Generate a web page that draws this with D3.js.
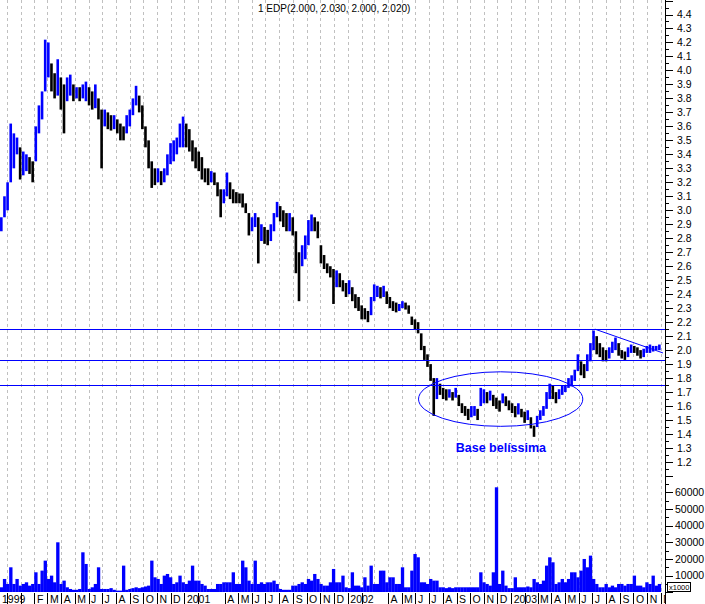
<!DOCTYPE html>
<html><head><meta charset="utf-8">
<script src="https://cdn.jsdelivr.net/npm/d3@7"></script>
<style>body{margin:0;background:#fff} svg{display:block} text{font-family:"Liberation Sans",Arial,sans-serif}</style>
</head><body><svg id="c" width="705" height="604"></svg>
<script>
// ---- data (weekly bars) ----
const weekStart = "1999-11-19";
const high = [
2.95,3.1,3.2,3.62,3.55,3.52,3.45,3.42,3.4,3.38,
3.35,3.6,3.75,3.85,4.22,4.2,4.05,3.98,4.08,3.95,
3.9,3.95,3.97,3.9,3.88,3.88,3.9,3.92,3.88,3.85,
3.9,3.8,3.72,3.72,3.7,3.68,3.68,3.65,3.62,3.6,
3.68,3.72,3.8,3.89,3.82,3.75,3.6,3.5,3.35,3.3,
3.3,3.28,3.3,3.4,3.48,3.5,3.52,3.62,3.67,3.62,
3.58,3.5,3.45,3.42,3.38,3.3,3.3,3.28,3.27,3.2,
3.15,3.15,3.27,3.2,3.15,3.13,3.12,3.12,3.05,2.98,
2.95,2.98,2.95,2.9,2.88,2.86,2.9,2.98,3.06,3.03,
3.0,2.98,2.98,2.95,2.85,2.7,2.75,2.82,2.93,2.97,
2.95,2.92,2.75,2.68,2.62,2.6,2.58,2.57,2.55,2.5,
2.48,2.5,2.45,2.4,2.38,2.32,2.3,2.28,2.38,2.47,
2.46,2.45,2.46,2.42,2.38,2.35,2.34,2.33,2.35,2.34,
2.32,2.24,2.22,2.2,2.12,2.03,1.97,1.9,1.8,1.8,
1.76,1.73,1.72,1.72,1.7,1.73,1.68,1.62,1.6,1.58,
1.6,1.6,1.58,1.73,1.72,1.7,1.71,1.68,1.66,1.64,
1.69,1.67,1.64,1.62,1.6,1.62,1.58,1.56,1.57,1.52,
1.46,1.53,1.57,1.6,1.7,1.76,1.75,1.7,1.72,1.75,
1.75,1.8,1.82,1.86,1.97,1.92,1.9,1.97,2.05,2.14,
2.1,2.05,2.02,2.0,2.02,2.06,2.09,2.05,2.0,1.99,
2.02,2.04,2.03,2.02,2.0,2.01,2.03,2.04,2.03,2.03,
2.04];
const low = [
2.85,2.95,3.0,3.2,3.3,3.4,3.22,3.25,3.28,3.26,
3.2,3.35,3.55,3.65,3.85,3.95,3.85,3.8,3.82,3.72,
3.55,3.78,3.82,3.78,3.8,3.78,3.8,3.78,3.75,3.72,
3.73,3.65,3.3,3.6,3.58,3.57,3.58,3.55,3.5,3.5,
3.55,3.6,3.68,3.75,3.7,3.58,3.45,3.3,3.16,3.18,
3.2,3.18,3.2,3.25,3.33,3.35,3.4,3.45,3.45,3.45,
3.42,3.35,3.3,3.28,3.22,3.2,3.18,3.2,3.18,3.1,
2.95,3.05,3.1,3.08,3.05,3.05,3.05,3.02,2.98,2.82,
2.85,2.88,2.62,2.78,2.76,2.75,2.78,2.85,2.95,2.92,
2.88,2.85,2.85,2.82,2.55,2.35,2.6,2.65,2.75,2.85,
2.85,2.8,2.62,2.58,2.55,2.52,2.33,2.45,2.45,2.42,
2.38,2.4,2.35,2.3,2.28,2.22,2.22,2.2,2.25,2.35,
2.38,2.37,2.38,2.33,2.3,2.28,2.27,2.28,2.3,2.29,
2.26,2.18,2.15,2.12,2.0,1.93,1.88,1.78,1.53,1.65,
1.68,1.65,1.64,1.66,1.64,1.66,1.6,1.55,1.53,1.5,
1.52,1.53,1.5,1.6,1.62,1.62,1.64,1.6,1.58,1.56,
1.62,1.6,1.57,1.55,1.52,1.54,1.52,1.48,1.5,1.44,
1.38,1.45,1.5,1.53,1.58,1.65,1.65,1.62,1.65,1.68,
1.7,1.73,1.74,1.78,1.85,1.82,1.8,1.85,1.92,2.0,
1.97,1.95,1.92,1.92,1.94,1.98,2.0,1.96,1.94,1.93,
1.95,1.98,1.98,1.96,1.94,1.95,1.98,1.98,1.99,2.0,
2.0];
const volume = [ // thousands
3,8,5,15,5,8,4,5,6,4,
5,12,5,13,19,8,10,6,30,5,
7,3,2,1.5,1.5,2,24,17,2,3,
5,15,2,2,2,2.5,1.5,1,1,16,
1.5,2,2.5,3,2.5,3,3.5,4,19,9,
8,5,10,11,9,5,6,10,6,5,
7,16,7,7,5,4,2,2,2,5,
5,6,6,6,12,5,5,19,15,7,
5,19,5,6,5,6,6,7,5,2,
1.5,1.5,1.5,4,4,5,6,5,8,7,
11,8,5,4,4,6,14,6,6,10,
3,2.5,12,4,4,3,9,4,16,5,
5,13,13,6,9,9,5,5,15,3,
3,13,23,21,6,6,5,8,7,7,
3,3,2.5,3,2.5,3,3,3,3,3,
3,3,3,12,6,5,4,12,63,5,
13,4,2.5,2.5,9,3,3,3,3.5,3,
8,6,5,7,16,21,18,5,6,8,
6,8,12,12,9,13,20,15,22,8,
5,3,3,5,3,4,3,5,5,4,
5,5,10,4,4,3,6,5,10,4,
5];
const levels = [2.15, 1.93, 1.75];
const trendDates = ["2003-07-07", "2003-12-06"];
const trendValues = [2.15, 1.98];
const ellipseDates = ["2002-06-08", "2003-06-10"];
const ellipseValues = [1.455, 1.845];
const noteDate = "2002-12-09", noteValue = 1.27, noteText = "Base belíssima";
const title = "1 EDP(2.000, 2.030, 2.000, 2.020)";
const priceLabels = ["4.4","4.3","4.2","4.1","4.0","3.9","3.8","3.7","3.6","3.5","3.4","3.3","3.2","3.1","3.0","2.9","2.8","2.7","2.6","2.5","2.4","2.3","2.2","2.1","2.0","1.9","1.8","1.7","1.6","1.5","1.4","1.3","1.2"];
const volumeLabels = ["60000","50000","40000","30000","20000","10000"];
const monthLabels = ["1999","","F","M","A","M","J","J","A","S","O","N","D",
 "2001","","","A","M","J","J","A","S","O","N","D",
 "2002","","","A","M","J","J","A","S","O","N","D",
 "2003","","M","A","M","J","J","A","S","O","N","D"];

// ---- drawing ----
const parse = d3.timeParse("%Y-%m-%d");
const svg = d3.select("#c");
const W = 705, H = 604, axisX = 665, plotBottom = 592;
const x = d3.scaleTime().domain([new Date(1999,11,1), new Date(2003,11,1)]).range([6.7, 660.7]);
const y = d3.scaleLinear().domain([1.2, 4.4]).range([462, 14.5]);
const yv = d3.scaleLinear().domain([0, 60000]).range([592.3, 492.3]);
const blue = "#0000ff";

svg.append("rect").attr("width", W).attr("height", H).attr("fill", "#fff");
svg.append("defs").append("clipPath").attr("id", "plot")
  .append("rect").attr("x", 0).attr("y", 0).attr("width", axisX).attr("height", plotBottom);
svg.select("defs").append("clipPath").attr("id", "axisclip")
  .append("rect").attr("x", 0).attr("y", 0).attr("width", axisX).attr("height", H);

const months = d3.timeMonth.range(new Date(1999,11,1), new Date(2003,11,2));

// grid
svg.append("g").selectAll("line").data(months).join("line")
  .attr("x1", d => Math.round(x(d)) + 0.5).attr("x2", d => Math.round(x(d)) + 0.5)
  .attr("y1", 0).attr("y2", plotBottom)
  .attr("stroke", "#c0c0c0").attr("stroke-dasharray", "3,3");

const start = parse(weekStart);
const weeks = high.map((h, i) => ({
  date: d3.timeDay.offset(start, 7 * i), hi: h, lo: low[i], vol: volume[i] * 1000,
  up: i === 0 ? true : (h + low[i]) >= (high[i-1] + low[i-1])
}));
const bw = x(new Date(2001,0,8)) - x(new Date(2001,0,1));

const plot = svg.append("g").attr("clip-path", "url(#plot)");
// volume
plot.append("g").selectAll("rect").data(weeks).join("rect")
  .attr("x", d => x(d.date) - bw / 2).attr("width", bw + 0.2)
  .attr("y", d => yv(d.vol)).attr("height", d => yv(0) - yv(d.vol))
  .attr("fill", blue);
// price bars
plot.append("g").selectAll("rect").data(weeks).join("rect")
  .attr("x", d => x(d.date) - 1.3).attr("width", 2.6)
  .attr("y", d => y(d.hi)).attr("height", d => Math.max(1.5, y(d.lo) - y(d.hi)))
  .attr("fill", d => d.up ? blue : "#000");
// level lines
plot.append("g").selectAll("line").data(levels).join("line")
  .attr("x1", 0).attr("x2", axisX)
  .attr("y1", d => Math.round(y(d)) + 0.5).attr("y2", d => Math.round(y(d)) + 0.5)
  .attr("stroke", blue);
// trend line
plot.append("line")
  .attr("x1", x(parse(trendDates[0]))).attr("y1", y(trendValues[0]))
  .attr("x2", x(parse(trendDates[1]))).attr("y2", y(trendValues[1]))
  .attr("stroke", blue);
// ellipse
const ex0 = x(parse(ellipseDates[0])), ex1 = x(parse(ellipseDates[1]));
const ey0 = y(ellipseValues[1]), ey1 = y(ellipseValues[0]);
plot.append("ellipse").attr("cx", (ex0 + ex1) / 2).attr("cy", (ey0 + ey1) / 2)
  .attr("rx", (ex1 - ex0) / 2).attr("ry", (ey1 - ey0) / 2)
  .attr("fill", "none").attr("stroke", blue);
// note
svg.append("text").attr("x", x(parse(noteDate))).attr("y", y(noteValue))
  .attr("text-anchor", "middle").attr("fill", blue)
  .attr("font-weight", "bold").attr("font-size", "12.5px").text(noteText);
// title
svg.append("text").attr("x", 258).attr("y", 12).attr("font-size", "10px").attr("fill", "#000").text(title);

// right axis
svg.append("line").attr("x1", axisX + 0.5).attr("x2", axisX + 0.5).attr("y1", 0).attr("y2", H).attr("stroke", "#000");
const pTicks = d3.range(22, 91).map(k => k * 0.05);
svg.append("g").selectAll("line").data(pTicks).join("line")
  .attr("x1", axisX).attr("x2", (d, i) => axisX + (i % 2 === 0 ? 8 : 4))
  .attr("y1", d => Math.round(y(d)) + 0.5).attr("y2", d => Math.round(y(d)) + 0.5)
  .attr("stroke", "#000");
svg.append("g").selectAll("text").data(priceLabels).join("text")
  .attr("x", 677).attr("y", d => y(+d)).attr("dy", "0.35em")
  .attr("font-size", "10.5px").text(d => d);
const vTicks = d3.range(0, 14).map(k => k * 5000);
svg.append("g").selectAll("line").data(vTicks).join("line")
  .attr("x1", axisX).attr("x2", d => axisX + (d % 10000 === 0 ? 8 : 4))
  .attr("y1", d => Math.round(yv(d)) + 0.5).attr("y2", d => Math.round(yv(d)) + 0.5)
  .attr("stroke", "#000");
svg.append("g").selectAll("text").data(volumeLabels).join("text")
  .attr("x", 675).attr("y", d => yv(+d)).attr("dy", "0.35em")
  .attr("font-size", "10.5px").text(d => d);
svg.append("rect").attr("x", 667.5).attr("y", 582.5).attr("width", 23).attr("height", 9)
  .attr("fill", "#fff").attr("stroke", "#000");
svg.append("text").attr("x", 669).attr("y", 590).attr("font-size", "7.5px").text("x1000");

// bottom month axis
const bottom = svg.append("g").attr("clip-path", "url(#axisclip)");
bottom.selectAll("line").data(months.filter((m, i) => !(monthLabels[i] === "" && m.getMonth() === 2)))
  .join("line")
  .attr("x1", d => Math.round(x(d)) + 0.5).attr("x2", d => Math.round(x(d)) + 0.5)
  .attr("y1", 593).attr("y2", H).attr("stroke", "#000");
bottom.selectAll("text").data(months).join("text")
  .attr("x", (d, i) => i === 0 ? 2 : x(d) + 2.5).attr("y", 603)
  .attr("font-size", "10.5px").text((d, i) => monthLabels[i]);
</script></body></html>
